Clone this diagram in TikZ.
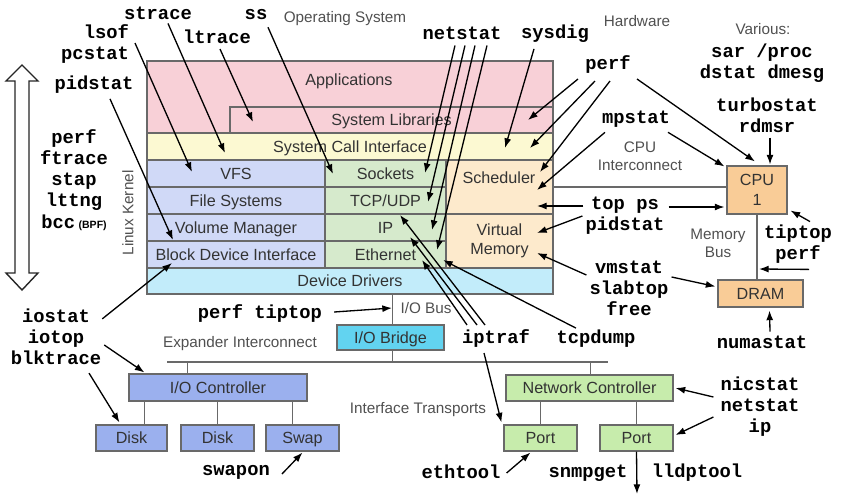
\documentclass[tikz,border=0pt]{standalone}
\usepackage{fontspec}
\setmainfont{Liberation Sans}
\setsansfont{Liberation Sans}
\setmonofont{Liberation Mono}
\usetikzlibrary{positioning, arrows.meta, calc, fit}

\definecolor{appPink}{RGB}{248,208,215}
\definecolor{sysYellow}{RGB}{252,249,210}
\definecolor{ioBlue}{RGB}{208,217,247}
\definecolor{ioBlueDark}{RGB}{155,176,238}
\definecolor{netGreen}{RGB}{214,234,204}
\definecolor{netGreenDark}{RGB}{199,236,172}
\definecolor{memOrange}{RGB}{253,234,204}
\definecolor{cpuOrange}{RGB}{249,204,151}
\definecolor{drvCyan}{RGB}{194,236,250}
\definecolor{bridgeCyan}{RGB}{98,211,240}
\definecolor{edgeGrey}{RGB}{105,105,105}
\definecolor{noteGrey}{RGB}{80,80,80}

\begin{document}
\begin{tikzpicture}[
    x=0.02cm, y=-0.02cm,
    layer/.style = {draw=edgeGrey, line width=0.6pt, inner sep=0pt},
    boxtext/.style = {inner sep=1pt, align=center, font=\fontsize{9.2}{11}\selectfont, text=black!80},
    boxline/.style = {boxtext, text depth=0pt},
    tool/.style = {font=\ttfamily\bfseries\fontsize{10.7}{12}\selectfont, inner sep=1pt, align=center},
    note/.style = {font=\fontsize{8.7}{10.4}\selectfont, text=noteGrey, inner sep=1pt, align=center},
    arrow/.style = {-{Latex[length=5.5pt,width=4pt]}, line width=0.75pt},
    bus/.style = {draw=edgeGrey, line width=0.8pt}
]
\useasboundingbox (0,0) rectangle (852,497);

% Operating system stack
\path[fill=appPink, draw=edgeGrey, line width=0.6pt] (147,61) rectangle (553,133);
\node[boxline] (apps) at (349,80) {Applications};
\node[layer, fill=appPink, fit={(230,107) (553,133)}, label={[boxline]center:System Libraries}] (libs) {};
\node[layer, fill=sysYellow, fit={(147,133) (553,160)}, label={[boxline]center:System Call Interface}] (syscall) {};
\node[layer, fill=ioBlue, fit={(147,160) (325,187)}, label={[boxline]center:VFS}] (vfs) {};
\node[layer, fill=ioBlue, fit={(147,187) (325,214)}, label={[boxline]center:File Systems}] (fs) {};
\node[layer, fill=ioBlue, fit={(147,214) (325,241)}, label={[boxline]center:Volume Manager}] (volmgr) {};
\node[layer, fill=ioBlue, fit={(147,241) (325,268)}, label={[boxline]center:Block Device Interface}] (blockdev) {};
\node[layer, fill=netGreen, fit={(325,160) (446,187)}, label={[boxline]center:Sockets}] (sockets) {};
\node[layer, fill=netGreen, fit={(325,187) (446,214)}, label={[boxline]center:TCP/UDP}] (tcpudp) {};
\node[layer, fill=netGreen, fit={(325,214) (446,241)}, label={[boxline]center:IP}] (ip) {};
\node[layer, fill=netGreen, fit={(325,241) (446,268)}, label={[boxline]center:Ethernet}] (ethernet) {};
\node[layer, fill=memOrange, fit={(446,160) (553,214)}] (sched) {};
\node[boxline] (schedtext) at (499,178) {Scheduler};
\node[layer, fill=memOrange, fit={(446,214) (553,268)}, label={[boxtext]center:Virtual\\Memory}] (vmem) {};
\node[layer, fill=drvCyan, fit={(147,268) (553,294)}, label={[boxline]center:Device Drivers}] (drivers) {};

% Hardware
\node[layer, fill=bridgeCyan, fit={(337,325) (444,350)}, label={[boxline]center:I/O Bridge}] (bridge) {};
\node[layer, fill=ioBlueDark, fit={(129,374) (307,401)}, label={[boxline]center:I/O Controller}] (ioctl) {};
\node[layer, fill=ioBlueDark, fit={(96,425) (167,451)}, label={[boxline]center:Disk}] (disk1) {};
\node[layer, fill=ioBlueDark, fit={(181,425) (254,451)}, label={[boxline]center:Disk}] (disk2) {};
\node[layer, fill=ioBlueDark, fit={(266,425) (339,451)}, label={[boxline]center:Swap}] (swap) {};
\node[layer, fill=netGreenDark, fit={(506,375) (673,401)}, label={[boxline]center:Network Controller}] (netctl) {};
\node[layer, fill=netGreenDark, fit={(504,425) (577,451)}, label={[boxline]center:Port}] (port1) {};
\node[layer, fill=netGreenDark, fit={(600,425) (673,451)}, label={[boxline]center:Port}] (port2) {};
\node[layer, fill=cpuOrange, fit={(727,166) (787,214)}, label={[boxtext]center:CPU\\1}] (cpu) {};
\node[layer, fill=cpuOrange, fit={(718,280) (803,307)}, label={[boxline]center:DRAM}] (dram) {};

% Buses
\coordinate (xbusL) at (167,362);
\coordinate (xbusR) at (608,362);
\coordinate (cpulink) at (553,187);
\draw[bus] (xbusL) -- (xbusR);
\draw[bus] ($(bridge.north)+(2,0)$) -- ($(bridge.north |- drivers.south)+(2,0)$);
\draw[bus] ($(bridge.south)+(2,0)$) -- ($(bridge.south |- xbusL)+(2,0)$);
\draw[bus] ($(ioctl.north west)+(59,0)$) |- (xbusL);
\draw[bus] ($(netctl.north west)+(85,0)$) |- (xbusR);
\draw[bus] ($(disk1.north)+(13,0)$) -- ++(0,-24);
\draw[bus] (disk2.north) -- (disk2.north |- ioctl.south);
\draw[bus] ($(swap.north)+(-10,0)$) -- ++(0,-24);
\draw[bus] (port1.north) -- (port1.north |- netctl.south);
\draw[bus] (port2.north) -- (port2.north |- netctl.south);
\draw[bus] (cpulink) -- (cpulink -| cpu.west);
\draw[bus] (cpu.south) -- (cpu.south |- dram.north);

% Notes
\node[note] (os) at (345,19) {Operating System};
\node[note] (hw) at (637,21) {Hardware};
\node[note] (various) at (763,29) {Various:};
\node[note, rotate=90] (kernel) at (128,213) {Linux Kernel};
\node[note] (cpuic) at (640,156) {CPU\\Interconnect};
\node[note] (membus) at (718,243) {Memory\\Bus};
\node[note] (iobus) at (426,308) {I/O Bus};
\node[note] (expander) at (240,344) {Expander Interconnect};
\node[note] (transports) at (418,410) {Interface Transports};

% Big up/down arrow
\draw[draw=black!85, line width=0.8pt, fill=white] (22,65) -- (38,81) -- (29,81) -- (29,273) -- (38,273) -- (22,290)
    -- (6,273) -- (15,273) -- (15,81) -- (6,81) -- cycle;

% Tools
\node[tool] (strace) at (158,13) {strace};
\node[tool] (ss) at (256,15) {ss};
\node[tool, align=right, anchor=east] (lsof) at (131,44) {lsof\\pcstat};
\node[tool] (ltrace) at (217,37) {ltrace};
\node[tool] (pidstatL) at (94,85) {pidstat};
\node[tool] (tracers) at (74,180) {perf\\ftrace\\stap\\lttng\\bcc\hspace{2pt}{\rmfamily\bfseries\fontsize{6}{7}\selectfont(BPF)}};
\node[tool] (netstatT) at (462,33) {netstat};
\node[tool] (sysdig) at (555,34) {sysdig};
\node[tool] (perfR) at (608,65) {perf};
\node[tool] (sar) at (762,63) {sar /proc\\dstat dmesg};
\node[tool] (turbo) at (767,115) {turbostat\\rdmsr};
\node[tool] (mpstat) at (636,119) {mpstat};
\node[tool] (topps) at (625,216) {top ps\\pidstat};
\node[tool] (tiptop) at (798,244) {tiptop\\perf};
\node[tool] (vmstat) at (629,288) {vmstat\\slabtop\\free};
\node[tool] (numastat) at (762,342) {numastat};
\node[tool] (iostat) at (56,337) {iostat\\iotop\\blktrace};
\node[tool] (perfio) at (260,313) {perf tiptop};
\node[tool] (iptraf) at (496,338) {iptraf};
\node[tool] (tcpdump) at (596,339) {tcpdump};
\node[tool] (nicstat) at (760,407) {nicstat\\netstat\\ip};
\node[tool] (swapon) at (236,472) {swapon};
\node[tool] (ethtool) at (461,472) {ethtool};
\node[tool] (snmpget) at (588,473) {snmpget};
\node[tool] (lldptool) at (697,473) {lldptool};

% Arrow targets
\coordinate (tSyscallA) at (225,153);
\coordinate (tLibsA) at (253,122);
\coordinate (tVfs) at (192,172);
\coordinate (tVolmgr) at (173,240);
\coordinate (tSockA) at (333,174);
\coordinate (tSockB) at (425,173);
\coordinate (tTcpA) at (428,202);
\coordinate (tIpA) at (432,230);
\coordinate (tEthA) at (437,250);
\coordinate (tSyscallB) at (505,148);
\coordinate (tLibsB) at (528,120);
\coordinate (tSyscallC) at (530,148);
\coordinate (tSchedA) at (540,172);
\coordinate (tSchedB) at (537,190);
\coordinate (tSchedC) at (537,206);
\coordinate (tVmemA) at (537,233);
\coordinate (tVmemB) at (537,253);
\coordinate (tBlock) at (172,263);
\coordinate (tIobus) at (392,308);
\coordinate (tEthB) at (443,260);
\coordinate (tEthC) at (422,260);
\coordinate (tIpB) at (410,237);
\coordinate (tTcpB) at (400,215);
\coordinate (tMembus) at (759,269);
\coordinate (lldpEnd) at (637,494);

% Arrows into the stack
\draw[arrow] ($(strace.south)+(10,2)$) -- (tSyscallA);
\draw[arrow] ($(ltrace.south)+(3,3)$) -- (tLibsA);
\draw[arrow] ($(lsof.east)+(4,-1)$) -- (tVfs);
\draw[arrow] ($(pidstatL.south)+(16,3)$) -- (tVolmgr);
\draw[arrow] ($(ss.south)+(12,5)$) -- (tSockA);
\draw[arrow] ($(netstatT.south)+(-7,4)$) -- (tSockB);
\draw[arrow] ($(netstatT.south)+(3,4)$) -- (tTcpA);
\draw[arrow] ($(netstatT.south)+(13,4)$) -- (tIpA);
\draw[arrow] ($(netstatT.south)+(25,4)$) -- (tEthA);
\draw[arrow] ($(sysdig.south)+(-21,4)$) -- (tSyscallB);
\draw[arrow] ($(perfR.south)+(-30,3)$) -- (tLibsB);
\draw[arrow] ($(perfR.south)+(-13,5)$) -- (tSyscallC);
\draw[arrow] ($(perfR.south)+(2,5)$) -- (tSchedA);
\draw[arrow] ($(mpstat.south)+(-31,3)$) -- (tSchedB);
\draw[arrow] ($(topps.west)+(0,-10)$) -- (tSchedC);
\draw[arrow] ($(topps.west)+(-1,0)$) -- (tVmemA);
\draw[arrow] ($(vmstat.west)+(-1,-13)$) -- (tVmemB);
\draw[arrow] ($(iostat.north east)+(-1,12)$) -- (tBlock);
\draw[arrow] ($(tcpdump.north)+(-20,0)$) -- (tEthB);
\draw[arrow] ($(iptraf.north)+(-29,-2)$) -- (tEthC);
\draw[arrow] ($(iptraf.north)+(-19,-2)$) -- (tIpB);
\draw[arrow] ($(iptraf.north)+(-11,-2)$) -- (tTcpB);

% Arrows into the hardware
\draw[arrow] ($(perfR.south)+(29,3)$) -- ($(cpu.north)+(-2,-4)$);
\draw[arrow] ($(mpstat.south)+(32,3)$) -- ($(cpu.north west)+(-2,1)$);
\draw[arrow] ($(turbo.south)+(3,3)$) -- ($(cpu.north)+(13,-1)$);
\draw[arrow] ($(topps.east)+(2,-9)$) -- ($(cpu.west)+(-2,17)$);
\draw[arrow] ($(tiptop.north)+(12,-1)$) -- ($(cpu.south east)+(3,-4)$);
\draw[arrow] ($(tiptop.south)+(11,4)$) -- (tMembus);
\draw[arrow] ($(vmstat.east)+(1,-11)$) -- ($(dram.west)+(-2,-7)$);
\draw[arrow] ($(numastat.north)+(8,-2)$) -- ($(dram.south)+(9,3)$);
\draw[arrow] ($(perfio.east)+(10,-1)$) -- (tIobus);
\draw[arrow] ($(iostat.east)+(1,8)$) -- ($(ioctl.north west)+(16,-1)$);
\draw[arrow] ($(iostat.south)+(33,6)$) -- ($(disk1.north west)+(24,-2)$);
\draw[arrow] ($(swapon.east)+(10,2)$) -- ($(swap.south)+(0,1)$);
\draw[arrow] ($(iptraf.south)+(-12,4)$) -- ($(port1.north west)+(-2,-2)$);
\draw[arrow] ($(ethtool.east)+(4,1)$) -- ($(port1.south)+(-10,1)$);
\draw[arrow] ($(nicstat.west)+(-5,-10)$) -- ($(netctl.east)+(2,0)$);
\draw[arrow] ($(nicstat.west)+(-5,10)$) -- ($(port2.east)+(2,-3)$);
\draw[arrow] (port2.south) -- (lldpEnd);

\end{tikzpicture}
\end{document}
